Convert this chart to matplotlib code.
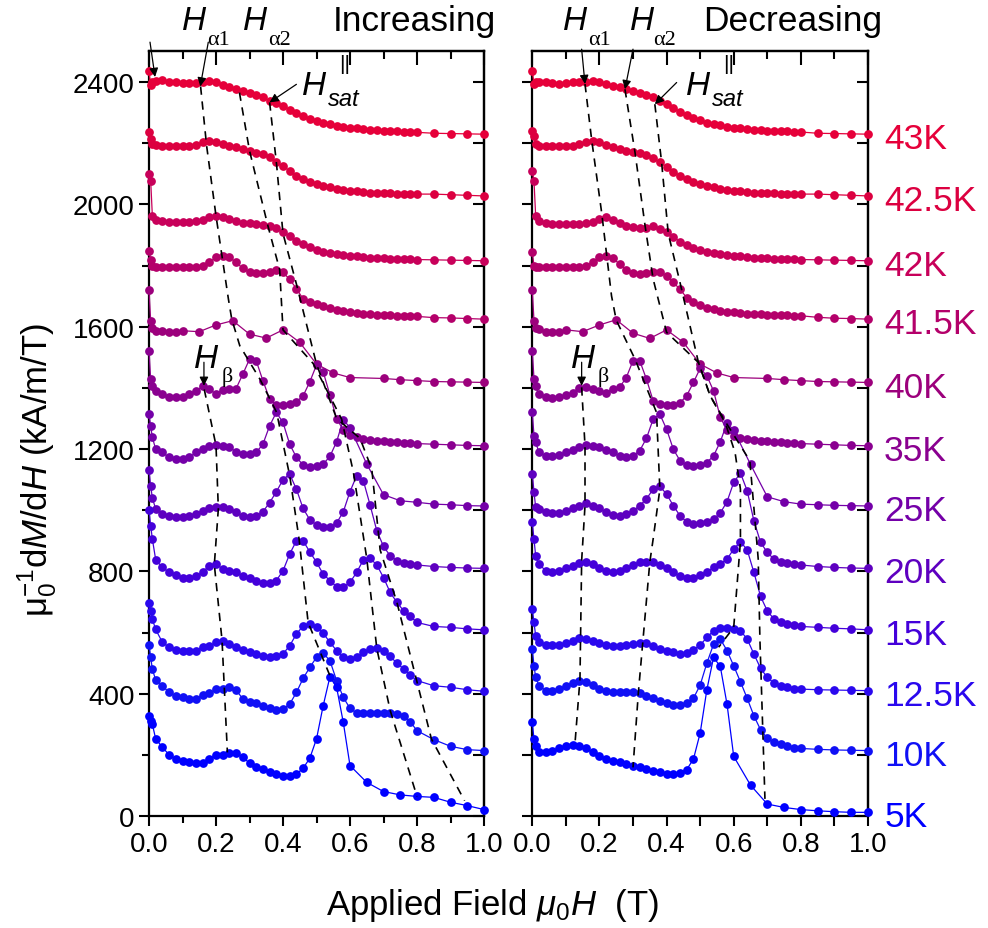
# dM/dH vs field, increasing and decreasing sweeps, offset curves
import numpy as np
import matplotlib.pyplot as plt
from matplotlib.ticker import MultipleLocator

plt.rcParams['font.family'] = ['Liberation Sans', 'DejaVu Sans']
plt.rcParams['mathtext.fontset'] = 'custom'
plt.rcParams['mathtext.rm'] = 'Liberation Sans'
plt.rcParams['mathtext.it'] = 'Liberation Sans:italic'

# field grids (T)
H_DENSE = [0.0, 0.005, 0.01, 0.02, 0.04, 0.06, 0.08, 0.10, 0.12, 0.14,
           0.16, 0.18, 0.20, 0.22, 0.24, 0.26, 0.28, 0.30, 0.32, 0.34,
           0.36, 0.38, 0.40, 0.42, 0.44, 0.46, 0.48, 0.50, 0.52, 0.54,
           0.56, 0.58, 0.60, 0.62, 0.64, 0.66, 0.68, 0.70, 0.72, 0.74,
           0.76, 0.78, 0.80, 0.85, 0.90, 0.95, 1.00]
H_TAIL = [0.0, 0.005, 0.01, 0.02, 0.04, 0.06, 0.08, 0.10, 0.12, 0.14,
          0.16, 0.18, 0.20, 0.22, 0.24, 0.26, 0.28, 0.30, 0.32, 0.34,
          0.36, 0.38, 0.40, 0.42, 0.44, 0.46, 0.48, 0.50, 0.52, 0.54,
          0.56, 0.58, 0.60, 0.65, 0.70, 0.75, 0.80, 0.85, 0.90, 0.95, 1.00]
H_40K = [0.0, 0.005, 0.01, 0.02, 0.04, 0.06, 0.08, 0.10, 0.15, 0.20,
         0.25, 0.30, 0.35, 0.40, 0.45, 0.50, 0.55, 0.60, 0.70, 0.75,
         0.80, 0.85, 0.90, 0.95, 1.00]

temps = ['43K', '42.5K', '42K', '41.5K', '40K', '35K', '25K', '20K',
         '15K', '12.5K', '10K', '5K']
colors = ['#E6003A', '#DC0040', '#C8005A', '#B4006A', '#9C007C', '#8A0090',
          '#7400A8', '#5E00C0', '#4400DA', '#2A08EE', '#1010F5', '#0000FF']

# ---- increasing field (kA/m/T, offset) ----
inc_43 = [2435, 2390, 2400, 2405, 2408, 2401, 2399, 2397, 2397, 2397,
          2399, 2405, 2399, 2390, 2383, 2377, 2372, 2366, 2359, 2350,
          2339, 2332, 2323, 2310, 2299, 2288, 2279, 2273, 2266, 2262,
          2257, 2254, 2251, 2249, 2247, 2244, 2243, 2241, 2240, 2239,
          2238, 2237, 2236, 2233, 2232, 2231, 2230]
inc_425 = [2236, 2214, 2197, 2194, 2192, 2192, 2192, 2192, 2192, 2195,
           2203, 2208, 2205, 2197, 2190, 2187, 2181, 2176, 2170, 2165,
           2154, 2138, 2125, 2110, 2094, 2083, 2074, 2067, 2061, 2056,
           2052, 2048, 2045, 2043, 2041, 2039, 2038, 2037, 2036, 2035,
           2035, 2034, 2034, 2034, 2032, 2030, 2028]
inc_42 = [2100, 2078, 1963, 1950, 1947, 1944, 1944, 1944, 1944, 1947,
          1950, 1958, 1961, 1958, 1952, 1947, 1941, 1938, 1936, 1933,
          1930, 1922, 1909, 1896, 1881, 1871, 1860, 1852, 1845, 1841,
          1838, 1835, 1832, 1830, 1828, 1826, 1825, 1824, 1823, 1822,
          1822, 1821, 1820, 1819, 1818, 1817, 1816]
inc_415 = [1849, 1820, 1800, 1797, 1797, 1794, 1794, 1794, 1794, 1794,
           1800, 1811, 1827, 1832, 1827, 1811, 1791, 1778, 1775, 1776,
           1780, 1787, 1778, 1755, 1725, 1691, 1680, 1674, 1667, 1660,
           1656, 1652, 1647, 1645, 1643, 1641, 1639, 1638, 1637, 1636,
           1636, 1635, 1634, 1630, 1629, 1627, 1625]
inc_40 = [1720, 1620, 1595, 1587, 1585, 1582, 1582, 1587, 1584, 1606,
          1620, 1576, 1563, 1590, 1549, 1478, 1449, 1434, 1431, 1427,
          1424, 1421, 1420, 1419, 1418]
inc_35 = [1522, 1429, 1407, 1391, 1380, 1369, 1369, 1372, 1380, 1391,
          1405, 1396, 1380, 1394, 1396, 1398, 1445, 1494, 1489, 1424,
          1364, 1344, 1344, 1347, 1355, 1374, 1420, 1475, 1453, 1377,
          1300, 1262, 1245, 1238, 1233, 1230, 1227, 1225, 1223, 1222,
          1221, 1219, 1218, 1216, 1214, 1212, 1211]
inc_25 = [1314, 1276, 1238, 1200, 1189, 1173, 1167, 1167, 1173, 1189,
          1200, 1211, 1214, 1211, 1206, 1191, 1184, 1184, 1189, 1216,
          1276, 1320, 1287, 1216, 1173, 1148, 1143, 1146, 1151, 1176,
          1224, 1296, 1270, 1151, 1051, 1031, 1026, 1020, 1018, 1015,
          1014]
inc_20 = [1130, 1080, 1040, 1004, 988, 980, 977, 977, 980, 988,
          998, 1008, 1012, 1010, 1004, 993, 980, 977, 980, 995,
          1025, 1060, 1100, 1118, 1069, 1006, 969, 952, 944, 944,
          958, 995, 1061, 1113, 1096, 1017, 933, 882, 851, 835,
          827, 824, 821, 816, 813, 811, 810]
inc_15 = [1000, 950, 906, 838, 813, 797, 788, 780, 780, 784,
          797, 819, 824, 808, 802, 797, 786, 777, 770, 761,
          761, 770, 802, 857, 900, 900, 864, 830, 791, 770,
          750, 748, 764, 797, 838, 843, 821, 780, 731, 699,
          671, 653, 633, 620, 617, 612, 609]
inc_125 = [698, 672, 644, 610, 568, 552, 544, 541, 541, 541,
           552, 555, 568, 573, 562, 552, 544, 537, 530, 524,
           519, 524, 530, 557, 595, 622, 628, 617, 598, 568,
           541, 519, 513, 519, 535, 546, 548, 541, 522, 500,
           481, 461, 443, 426, 421, 413, 408]
inc_10 = [560, 520, 480, 445, 426, 404, 393, 388, 382, 382,
          396, 401, 415, 417, 423, 412, 383, 374, 370, 361,
          352, 348, 350, 366, 404, 450, 486, 519, 533, 508,
          443, 388, 352, 337, 337, 337, 337, 337, 336, 334,
          328, 308, 279, 250, 228, 217, 214]
inc_5 = [327, 312, 300, 252, 225, 200, 186, 181, 178, 173,
         173, 186, 200, 200, 206, 206, 192, 173, 159, 154,
         145, 137, 132, 132, 137, 156, 189, 252, 361, 455,
         421, 306, 165, 110, 80, 69, 64, 61, 45, 34,
         21]

# ---- decreasing field ----
dec_43 = [2437, 2395, 2400, 2401, 2399, 2397, 2394, 2397, 2399, 2399,
          2401, 2405, 2401, 2394, 2388, 2383, 2377, 2372, 2366, 2358,
          2350, 2339, 2328, 2317, 2303, 2292, 2283, 2276, 2268, 2263,
          2259, 2254, 2251, 2249, 2247, 2244, 2243, 2242, 2241, 2240,
          2239, 2238, 2237, 2233, 2232, 2231, 2230]
dec_425 = [2241, 2225, 2197, 2192, 2192, 2192, 2192, 2192, 2192, 2198,
           2203, 2208, 2203, 2194, 2187, 2181, 2176, 2172, 2168, 2162,
           2151, 2138, 2123, 2107, 2094, 2083, 2074, 2067, 2061, 2056,
           2051, 2048, 2045, 2043, 2041, 2039, 2038, 2037, 2036, 2035,
           2035, 2034, 2034, 2034, 2032, 2030, 2028]
dec_42 = [2110, 2078, 1963, 1947, 1939, 1936, 1936, 1936, 1936, 1936,
          1939, 1944, 1954, 1958, 1950, 1939, 1930, 1925, 1922, 1922,
          1930, 1919, 1909, 1895, 1878, 1867, 1858, 1851, 1845, 1841,
          1838, 1835, 1832, 1830, 1828, 1826, 1825, 1824, 1823, 1822,
          1822, 1821, 1820, 1819, 1818, 1817, 1816]
dec_415 = [1843, 1800, 1795, 1794, 1794, 1796, 1796, 1796, 1796, 1796,
           1800, 1811, 1827, 1832, 1824, 1805, 1787, 1776, 1773, 1776,
           1780, 1780, 1767, 1745, 1723, 1695, 1680, 1671, 1663, 1658,
           1652, 1649, 1647, 1645, 1643, 1642, 1641, 1640, 1639, 1638,
           1637, 1636, 1636, 1631, 1628, 1627, 1625]
dec_40 = [1720, 1620, 1595, 1592, 1584, 1582, 1584, 1590, 1584, 1606,
          1623, 1579, 1562, 1590, 1549, 1478, 1449, 1434, 1431, 1427,
          1424, 1421, 1420, 1419, 1418]
dec_35 = [1522, 1430, 1405, 1380, 1372, 1366, 1372, 1377, 1385, 1400,
          1402, 1398, 1391, 1385, 1396, 1402, 1434, 1489, 1489, 1429,
          1358, 1347, 1344, 1344, 1351, 1375, 1418, 1464, 1440, 1390,
          1304, 1262, 1244, 1237, 1233, 1230, 1228, 1226, 1224, 1222,
          1221, 1220, 1218, 1216, 1214, 1212, 1211]
dec_25 = [1320, 1244, 1222, 1189, 1178, 1178, 1180, 1189, 1198, 1206,
          1213, 1211, 1206, 1198, 1189, 1178, 1173, 1178, 1195, 1235,
          1298, 1314, 1265, 1200, 1162, 1148, 1146, 1148, 1156, 1178,
          1224, 1285, 1262, 1150, 1044, 1028, 1020, 1018, 1016, 1015,
          1014]
dec_20 = [1120, 1060, 1010, 1004, 993, 990, 991, 998, 1006, 1015,
          1023, 1015, 1006, 993, 984, 980, 988, 998, 1015, 1037,
          1069, 1078, 1053, 1015, 982, 962, 955, 958, 962, 971,
          991, 1028, 1091, 1122, 1064, 966, 895, 862, 840, 832,
          827, 824, 821, 816, 813, 811, 810]
dec_15 = [960, 906, 851, 824, 802, 799, 802, 810, 819, 827,
          830, 824, 810, 802, 799, 802, 810, 821, 830, 832,
          830, 821, 810, 797, 784, 777, 777, 788, 799, 813,
          824, 840, 873, 897, 871, 797, 718, 671, 644, 633,
          628, 625, 620, 617, 614, 612, 609]
dec_125 = [677, 633, 590, 568, 559, 559, 559, 566, 573, 581,
           579, 573, 566, 559, 557, 557, 559, 562, 566, 566,
           555, 546, 541, 535, 530, 533, 544, 559, 584, 606,
           614, 614, 611, 606, 579, 530, 483, 453, 435, 426,
           421, 417, 415, 413, 412, 411, 410]
dec_10 = [545, 492, 454, 426, 410, 410, 415, 426, 435, 443,
          437, 428, 415, 410, 407, 404, 404, 404, 402, 393,
          385, 377, 370, 363, 363, 370, 385, 428, 500, 562,
          579, 541, 491, 439, 385, 328, 282, 254, 241, 235,
          230, 224, 221, 218, 216, 215, 214]
dec_5 = [306, 252, 230, 208, 208, 214, 221, 228, 232, 228,
         221, 208, 195, 186, 181, 176, 170, 165, 159, 154,
         148, 143, 137, 137, 141, 152, 186, 271, 413, 519,
         489, 366, 195, 101, 39, 28, 21, 17, 14, 12,
         12]

grids = [H_DENSE, H_DENSE, H_DENSE, H_DENSE, H_40K, H_DENSE, H_TAIL,
         H_DENSE, H_DENSE, H_DENSE, H_DENSE, H_TAIL]
inc_curves = [inc_43, inc_425, inc_42, inc_415, inc_40, inc_35, inc_25,
              inc_20, inc_15, inc_125, inc_10, inc_5]
dec_curves = [dec_43, dec_425, dec_42, dec_415, dec_40, dec_35, dec_25,
              dec_20, dec_15, dec_125, dec_10, dec_5]

# ---- guide lines through the features (field, value) ----
inc_a1_h = [0.154, 0.172, 0.20, 0.237, 0.247, 0.271, 0.331, 0.381, 0.42, 0.448, 0.475, 0.54]
inc_a1_m = [2386, 2192, 1963, 1691, 1625, 1538, 1429, 1320, 1113, 906, 633, 459]
inc_a2_h = [0.27, 0.30, 0.355, 0.39, 0.40, 0.49, 0.575, 0.61, 0.65, 0.68, 0.72, 0.80]
inc_a2_m = [2366, 2176, 1930, 1787, 1590, 1480, 1298, 1125, 843, 548, 345, 64]
inc_sat_h = [0.36, 0.38, 0.40, 0.44, 0.50, 0.56, 0.63, 0.665, 0.69, 0.74, 0.843, 0.942]
inc_sat_m = [2334, 2140, 1905, 1740, 1478, 1300, 1235, 1135, 870, 699, 252, 50]
inc_b_h = [0.165, 0.20, 0.207, 0.195, 0.218, 0.234]
inc_b_m = [1395, 1212, 1005, 822, 575, 208]

dec_a1_h = [0.157, 0.177, 0.207, 0.236, 0.25, 0.306, 0.37, 0.38, 0.36, 0.35, 0.316, 0.30]
dec_a1_m = [2394, 2210, 1970, 1701, 1622, 1494, 1320, 1069, 906, 830, 404, 159]
dec_a2_h = [0.276, 0.306, 0.336, 0.36, 0.40, 0.495, 0.53, 0.575, 0.604, 0.62, 0.62, 0.60, 0.555]
dec_a2_m = [2377, 2170, 1930, 1756, 1582, 1483, 1374, 1285, 1189, 1069, 897, 617, 552]
dec_sat_h = [0.365, 0.385, 0.405, 0.44, 0.495, 0.53, 0.575, 0.648, 0.663, 0.673, 0.678, 0.693]
dec_sat_m = [2328, 2140, 1905, 1745, 1483, 1374, 1290, 1162, 971, 840, 579, 56]
dec_b_h = [0.147, 0.157, 0.157, 0.147, 0.142, 0.127]
dec_b_m = [1402, 1211, 1015, 835, 448, 235]

W, Hpx = 988, 929
fig = plt.figure(figsize=(W / 100, Hpx / 100), dpi=100)


def px(x, y):
    return x / W, 1 - y / Hpx


ax1 = fig.add_axes([149 / W, 1 - 817 / Hpx, 335 / W, 765.3 / Hpx])
ax2 = fig.add_axes([532.3 / W, 1 - 817 / Hpx, 335.7 / W, 765.3 / Hpx])

for ax, curves in [(ax1, inc_curves), (ax2, dec_curves)]:
    for h, m, c in zip(grids, curves, colors):
        ax.plot(h, m, '-o', color=c, lw=0.9, ms=6.3, mew=0, clip_on=False, zorder=3)
    ax.set_xlim(0, 1.0)
    ax.set_ylim(0, 2503)
    ax.xaxis.set_major_locator(MultipleLocator(0.2))
    ax.xaxis.set_minor_locator(MultipleLocator(0.1))
    ax.yaxis.set_major_locator(MultipleLocator(400))
    ax.yaxis.set_minor_locator(MultipleLocator(200))
    ax.tick_params(which='both', direction='out', width=1.5, labelsize=20)
    ax.tick_params(which='major', length=7)
    ax.tick_params(which='minor', length=5)
    for s in ax.spines.values():
        s.set_linewidth(1.6)
    top = ax.secondary_xaxis('top')
    top.xaxis.set_major_locator(MultipleLocator(0.2))
    top.xaxis.set_minor_locator(MultipleLocator(0.1))
    top.tick_params(which='both', direction='in', width=1.5, labeltop=False)
    top.tick_params(which='major', length=10)
    top.tick_params(which='minor', length=6)
    right = ax.secondary_yaxis('right')
    right.yaxis.set_major_locator(MultipleLocator(400))
    right.yaxis.set_minor_locator(MultipleLocator(200))
    right.tick_params(which='both', direction='in', width=1.5, labelright=False)
    right.tick_params(which='major', length=8)
    right.tick_params(which='minor', length=8)
    for s in list(top.spines.values()) + list(right.spines.values()):
        s.set_linewidth(1.6)

ax2.tick_params(labelleft=False)
ax2.tick_params(which='minor', length=7)

dash = dict(color='k', lw=1.2, ls=(0, (5, 4)), zorder=5)
for hh, mm in [(inc_a1_h, inc_a1_m), (inc_a2_h, inc_a2_m),
               (inc_sat_h, inc_sat_m), (inc_b_h, inc_b_m)]:
    ax1.plot(hh, mm, **dash)
for hh, mm in [(dec_a1_h, dec_a1_m), (dec_a2_h, dec_a2_m),
               (dec_sat_h, dec_sat_m), (dec_b_h, dec_b_m)]:
    ax2.plot(hh, mm, **dash)

arrow = dict(arrowstyle='-|>', color='k', lw=0.9, mutation_scale=13,
             shrinkA=0, shrinkB=0)
for ax, tip, tail in [(ax1, (0.018, 2417), (0.003, 2531)),
                      (ax1, (0.153, 2386), (0.177, 2531)),
                      (ax1, (0.36, 2334), (0.44, 2393)),
                      (ax1, (0.164, 1407), (0.164, 1484)),
                      (ax2, (0.157, 2394), (0.147, 2508)),
                      (ax2, (0.276, 2377), (0.30, 2508)),
                      (ax2, (0.365, 2328), (0.43, 2399)),
                      (ax2, (0.147, 1407), (0.147, 1484))]:
    ax.annotate('', xy=tip, xytext=tail, arrowprops=arrow,
                annotation_clip=False, zorder=6)

# temperature labels on the right
for m, t, c in zip(dec_curves, temps, colors):
    ax2.text(1.048, m[-1] - 15, t, color=c, fontsize=25.5, va='center',
             ha='left', clip_on=False)

# feature labels
hfont = dict(fontsize=24, fontstyle='italic', va='baseline')
sfont = dict(fontsize=16, family='Liberation Serif', va='baseline')
for x0 in (0, 381):
    fig.text(*px(182 + x0, 30), 'H', **hfont)
    fig.text(*px(207 + x0, 45), 'α1', **sfont)
    fig.text(*px(243 + x0 + (6 if x0 else 0), 30), 'H', **hfont)
    fig.text(*px(268 + x0 + (4 if x0 else 0), 45), 'α2', **sfont)
    fig.text(*px(302 + x0 + (3 if x0 else 0), 95), 'H', **hfont)
    fig.text(*px(339 + x0 + (3 if x0 else 0), 70), '||', fontsize=15, va='baseline')
    fig.text(*px(328 + x0 + (3 if x0 else 0), 106), 'sat', fontsize=17,
             fontstyle='italic', va='baseline')
fig.text(*px(194, 368), 'H', **hfont)
fig.text(*px(222, 382), 'β', **sfont)
fig.text(*px(571, 368), 'H', **hfont)
fig.text(*px(598, 382), 'β', **sfont)
fig.text(*px(333, 31), 'Increasing', fontsize=25.5, va='baseline')
fig.text(*px(703, 31), 'Decreasing', fontsize=25.5, va='baseline')

fig.text(*px(492, 915), r'Applied Field $\mathit{μ_0H}$  (T)', fontsize=25,
         ha='center', va='baseline')
fig.text(*px(37, 470), r'μ$_0^{-1}$d$M$/d$H$ (kA/m/T)', fontsize=25,
         rotation=90, ha='center', va='center')

fig.savefig('out.png', dpi=100)
